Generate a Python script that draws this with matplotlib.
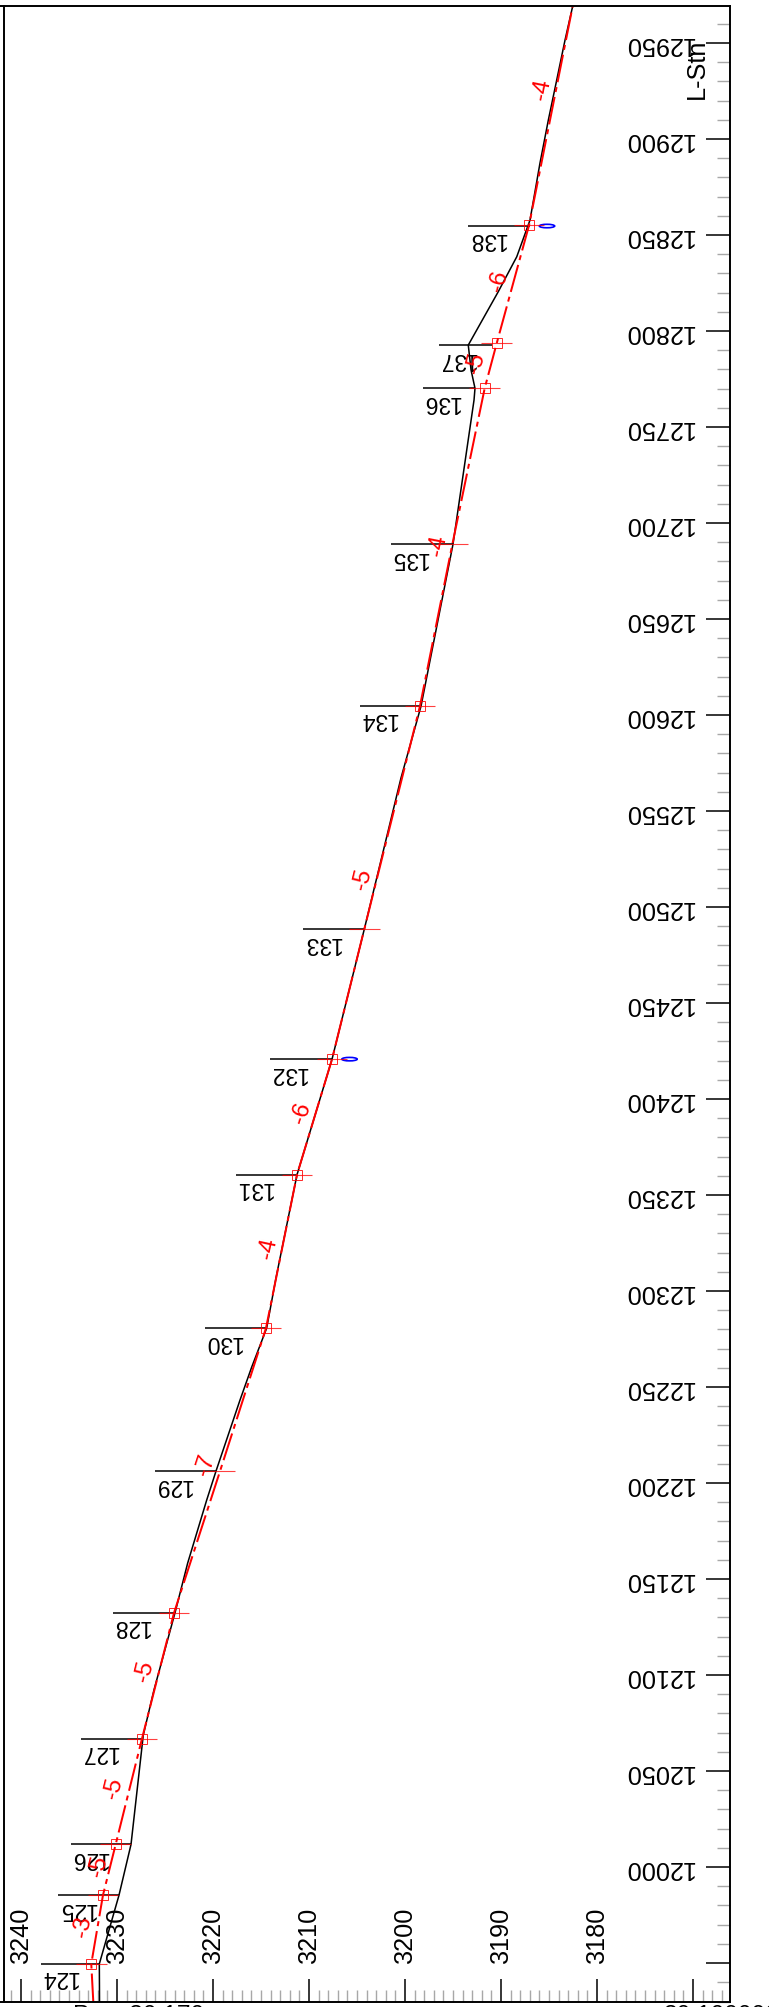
import matplotlib
matplotlib.use('Agg')
import matplotlib.pyplot as plt
from matplotlib.lines import Line2D
from matplotlib.patches import Ellipse
from matplotlib.ticker import MultipleLocator
from matplotlib.transforms import ScaledTranslation

plt.rcParams['font.family'] = ['Liberation Sans', 'DejaVu Sans']

# stations along the line
station_ids = [124, 125, 126, 127, 128, 129, 130, 131, 132, 133, 134, 135, 136, 137, 138]
station_chain = [11949.6, 11985.4, 12011.8, 12066.8, 12132.4, 12206.2, 12280.7, 12360.6,
                 12420.8, 12488.5, 12604.7, 12688.9, 12770.2, 12793.6, 12855.1]
station_elev = [3232.68, 3231.46, 3230.14, 3227.40, 3224.06, 3219.27, 3214.48, 3211.25,
                3207.60, 3204.24, 3198.44, 3195.07, 3191.70, 3190.45, 3187.08]
has_square = [1, 1, 1, 1, 1, 0, 1, 1, 1, 0, 1, 0, 1, 1, 1]

# black leader lines left of the profile
leader_chain = [11949.6, 11985.4, 12011.8, 12066.8, 12132.4, 12206.2, 12280.7, 12360.6,
                12420.8, 12488.5, 12604.7, 12688.9, 12770.2, 12792.6, 12854.7]
leader_start = [3237.92, 3236.11, 3234.82, 3233.75, 3230.45, 3226.04, 3220.83, 3217.60,
                3214.04, 3210.59, 3204.69, 3201.46, 3198.16, 3196.46, 3193.41]
leader_end = [3231.84, 3229.79, 3228.54, 3227.26, 3223.96, 3219.69, 3214.41, 3211.25,
              3207.60, 3204.24, 3198.33, 3195.00, 3192.71, 3190.97, 3186.98]

# ground profile
ground_chain = [11930.0, 11949.6, 11985.4, 12011.8, 12068.8, 12092.2, 12132.4, 12158.3,
                12191.1, 12206.2, 12243.2, 12260.4, 12280.7, 12306.8, 12360.6, 12420.8,
                12488.5, 12567.2, 12604.7, 12689.0, 12764.1, 12770.2, 12779.7, 12792.7,
                12820.3, 12838.7, 12857.8, 12887.5, 12909.9, 12930.7, 12951.6, 12969.3]
ground_elev = [3231.82, 3231.84, 3229.79, 3228.54, 3227.26, 3226.15, 3223.96, 3222.64,
               3220.66, 3219.69, 3217.19, 3215.97, 3214.41, 3213.44, 3211.25, 3207.60,
               3204.24, 3200.42, 3198.33, 3195.00, 3192.81, 3192.71, 3193.12, 3193.41,
               3190.31, 3188.36, 3186.98, 3185.94, 3185.07, 3184.20, 3183.33, 3182.53]

# design line ends beyond the first and last station
design_chain = [11930.0] + station_chain + [12969.3]
design_elev = [3232.47] + station_elev + [3182.53]

# grades written beside the design line
grade_text = ['-3', '-5', '-5', '-5', '-7', '-4', '-6', '-5', '-4', '-5', '-6', '-4']
grade_elev = [3233.51, 3231.95, 3230.39, 3227.16, 3220.73, 3214.24,
              3210.76, 3204.45, 3196.59, 3192.60, 3190.21, 3185.70]
grade_chain = [11968.9, 12000.5, 12041.0, 12101.7, 12209.4, 12321.9,
               12392.9, 12514.6, 12688.5, 12783.2, 12825.7, 12926.0]
grade_angle = [80, 76, 76, 76, 72, 78, 72, 76, 79, 75, 75, 79]

# blue markers at two stations
blue_elev = [3205.78, 3185.21]
blue_chain = [12420.8, 12854.7]

elev_ticks = [3240, 3230, 3220, 3210, 3200, 3190, 3180, 3170]
elev_labels = ['3240', '3230', '3220', '3210', '3200', '3190', '3180', '']
chain_ticks = list(range(11950, 13000, 50))
chain_labels = [''] + [str(c) for c in chain_ticks[1:]]


def main():
    W, H = 769, 2007
    fig = plt.figure(figsize=(W / 100, H / 100), dpi=100)
    ax = fig.add_axes([4 / W, 5.5 / H, 725.5 / W, 1995.5 / H])
    ax.set_xlim(3241.77, 3166.2)
    ax.set_ylim(11930.0, 12969.3)

    for side in ax.spines:
        ax.spines[side].set_linewidth(1.4)
    # top and bottom rules run on to the picture edge
    for y in (5.5 / H, 1 - 6 / H):
        fig.add_artist(Line2D([0, 4 / W], [y, y], color='black', lw=1.4))

    # ticks sit inside, labels too
    ax.yaxis.tick_right()
    ax.set_xticks(elev_ticks)
    xlabs = ax.set_xticklabels(elev_labels, fontsize=18.2, rotation=90)
    ax.set_yticks(chain_ticks)
    ylabs = ax.set_yticklabels(chain_labels, fontsize=18.2, rotation=180)
    ax.xaxis.set_minor_locator(MultipleLocator(1))
    ax.yaxis.set_minor_locator(MultipleLocator(10))
    ax.tick_params(axis='x', which='major', direction='in', length=16.5, width=1.1, pad=-27.4)
    ax.tick_params(axis='y', which='major', direction='in', length=17.6, width=1.1, pad=-25.2)
    ax.tick_params(axis='x', which='minor', direction='in', length=8.6, width=1.0, color='#a8a8a8')
    ax.tick_params(axis='y', which='minor', direction='in', length=9.4, width=1.0, color='#a8a8a8')

    # tick_params resets the label transforms, so this comes after it
    for t in xlabs:
        t.set_va('bottom')
    lift = ScaledTranslation(0, 2 / 100, fig.dpi_scale_trans)
    for t in ylabs:
        t.set_ha('right')
        t.set_transform(t.get_transform() + lift)

    ax.hlines(leader_chain, leader_start, leader_end, color='black', lw=1.1)
    ax.plot(ground_elev, ground_chain, color='black', lw=1.1)
    ax.plot(design_elev, design_chain, color='red', lw=1.44, linestyle=(0, (14, 2.5, 2.5, 2.5)))

    # crosshair and square on each station
    left = [e + 1.6 for e in station_elev]
    right = [e - 1.6 for e in station_elev]
    ax.hlines(station_chain, left, right, color='red', lw=0.8, alpha=0.75)
    sq_e = [e for e, s in zip(station_elev, has_square) if s]
    sq_c = [c for c, s in zip(station_chain, has_square) if s]
    ax.plot(sq_e, sq_c, 's', ms=6.8, mfc='none', mec='red', mew=0.7, alpha=0.85)

    for e, c in zip(blue_elev, blue_chain):
        ax.add_patch(Ellipse((e, c), 1.6, 1.8, fc='none', ec='blue', lw=1.2))

    for sid, e, c in zip(station_ids, leader_start, leader_chain):
        ax.annotate(str(sid), xy=(e, c), xytext=(-0.5, -10), textcoords='offset points',
                    rotation=180, ha='left', va='center', fontsize=16.5, color='black')

    for txt, e, c, a in zip(grade_text, grade_elev, grade_chain, grade_angle):
        ax.text(e, c, txt, rotation=a, ha='center', va='center', fontsize=17, color='red')

    fig.text(697 / W, 1 - 68.5 / H, 'L-Stn', rotation=90, ha='center', va='center', fontsize=18.2)

    # scale text mostly cut off by the lower edge
    fig.text(73 / W, -15 / H, 'P      30.170', fontsize=17.6, va='baseline')
    fig.text(663 / W, -15 / H, '30.100000', fontsize=17.6, va='baseline')

    fig.savefig('out.png', dpi=100)
    plt.close(fig)


if __name__ == "__main__":
    main()
